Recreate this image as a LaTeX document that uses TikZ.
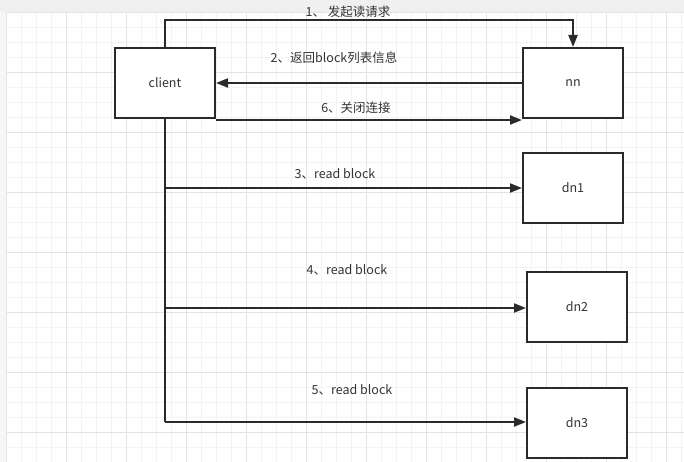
\documentclass[tikz,border=0pt]{standalone}
\usepackage{fontspec}
\newfontfamily\cjk{Noto Sans CJK SC}
\usetikzlibrary{arrows.meta}
\definecolor{ln}{HTML}{2A2A2A}
\definecolor{tx}{HTML}{333333}
\definecolor{gminor}{HTML}{F3F3F3}
\definecolor{gmajor}{HTML}{E3E3E3}
\definecolor{band}{HTML}{F0F0F0}
\begin{document}
\begin{tikzpicture}[x=1pt,y=-1pt,
  box/.style={draw=ln,line width=2pt,fill=white,minimum width=100pt,minimum height=70pt,inner sep=0pt,font=\cjk\fontsize{12.5}{14}\selectfont,text=tx},
  lbl/.style={font=\cjk\fontsize{12.5}{14}\selectfont,text=tx,inner sep=1pt},
  conn/.style={draw=ln,line width=2pt},
  arr/.style={conn,-{Triangle[length=12pt,width=9pt]}}]
\useasboundingbox (0,0) rectangle (684,462);
\fill[white] (0,0) rectangle (684,462);
\fill[band] (0,0) rectangle (684,12);
\fill[band!60] (0,12) rectangle (6,462);
% grid
\foreach \i in {0,...,45} {\draw[gminor,line width=0.8pt] ({6+15*\i},12) -- ({6+15*\i},462);}
\foreach \j in {0,...,30} {\draw[gminor,line width=0.8pt] (6,{12+15*\j}) -- (684,{12+15*\j});}
\foreach \i in {0,...,11} {\draw[gmajor,line width=0.8pt] ({6+60*\i},12) -- ({6+60*\i},462);}
\foreach \j in {0,...,7} {\draw[gmajor,line width=0.8pt] (6,{12+60*\j}) -- (684,{12+60*\j});}
% nodes
\node[box] (client) at (165,83) {client};
\node[box] (nn) at (573,83) {nn};
\node[box] (dn1) at (573,188) {dn1};
\node[box] (dn2) at (577,307) {dn2};
\node[box] (dn3) at (577,423) {dn3};
\coordinate (tl) at (165,20);
\coordinate (tr) at (573,20);
\coordinate (v3) at (165,188);
\coordinate (v4) at (165,308);
\coordinate (v5) at (165,422);
% connectors
\draw[arr] (client.north) -- (tl) -- (tr) -- (nn.north);
\draw[arr] (nn.west) -- (client.east);
\draw[arr] ([yshift=-1pt]client.south east) -- ([yshift=-1pt]nn.south west);
\draw[conn] (client.south) -- (v5);
\draw[arr] (v3) -- (dn1.west);
\draw[arr] (v4) -- (dn2.west |- v4);
\draw[arr] (v5) -- (dn3.west |- v5);
% labels
\node[lbl] (l1) at (348,12) {1、 发起读请求};
\node[lbl] (l2) at (334,58) {2、返回block列表信息};
\node[lbl] (l6) at (356,108) {6、关闭连接};
\node[lbl] (l3) at (335,174) {3、read block};
\node[lbl] (l4) at (347,270) {4、read block};
\node[lbl] (l5) at (352,390) {5、read block};
\end{tikzpicture}
\end{document}
